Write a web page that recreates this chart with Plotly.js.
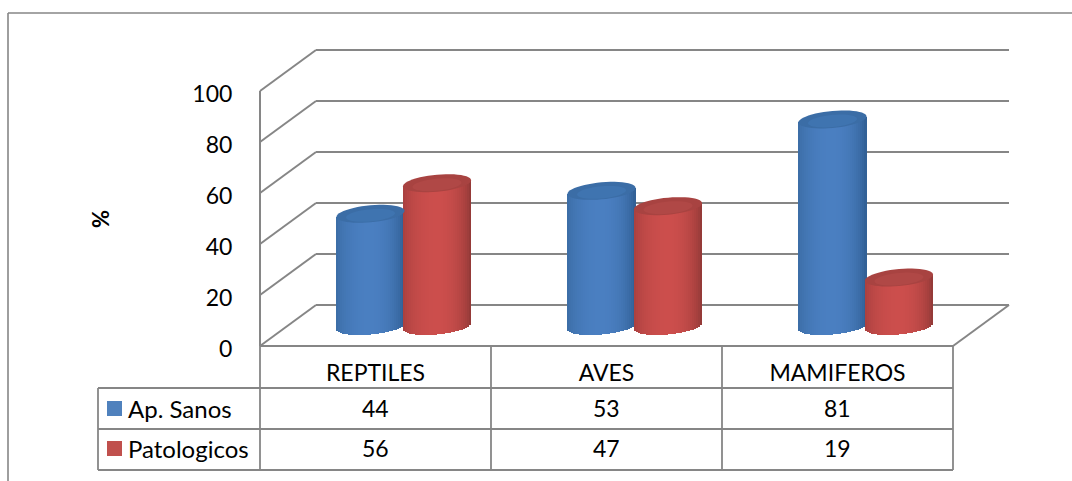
<!DOCTYPE html>
<html><head><meta charset="utf-8">
<script src="https://cdn.plot.ly/plotly-3.0.1.min.js"></script>
<style>html,body{margin:0;padding:0;background:#fff}#c{width:1072px;height:481px}</style>
</head><body><div id="c"></div>
<script>
const categories = ['REPTILES','AVES','MAMIFEROS'];
const seriesNames = ['Ap. Sanos','Patologicos'];
const apSanos = [44,53,81];
const patologicos = [56,47,19];
const yTicks = [0,20,40,60,80,100];
const yTickText = ['0','20','40','60','80','100'];
const seriesSolid = ['#4F81BD','#C0504D'];
const seriesEdgeL = ['#3A6BA3','#A63F3E'];
const seriesMid = ['#4A7FC1','#CC4E4C'];
const seriesEdgeR = ['#2E5C90','#8C3735'];
const seriesCap = ['#3B6DA6','#A84341'];
const seriesCapIn = ['#3F74B0','#B04846'];

const W=1072,H=481,FONT='Lato, Carlito, sans-serif',GRID='#868686',TXT='#000';
const X0=260,X3=953,Y0=346,Y100=91;
const pxX=(X3-X0)/3, pxY=(Y0-Y100)/100;
const xr=[-0.5-X0/pxX, 2.5+(W-X3)/pxX];
const yr=[-(H-Y0)/pxY, Y0/pxY];
const px=p=>p/W, py=p=>1-p/H;
const dataX=p=>-0.5+(p-X0)/pxX, dataY=p=>(Y0-p)/pxY;
const depthX=56/pxX, depthY=41/pxY;

const shapes=[];
const line=(x0,y0,x1,y1,w=1.6,ref='paper',col=GRID)=>shapes.push({type:'line',xref:ref==='paper'?'paper':'x',yref:ref==='paper'?'paper':'y',x0,y0,x1,y1,layer:'below',line:{color:col,width:w}});
const pl=(a,b,c,d,w)=>line(px(a),py(b),px(c),py(d),w);

// frame: left and top edges only
pl(8,13,8,481,1.6); pl(8,13,1072,13,1.6);
// walls, built from the value axis ticks
yTicks.forEach(v=>{
  line(-0.5,v,-0.5+depthX,v+depthY,2,'data');
  line(-0.5+depthX,v+depthY,2.5+depthX,v+depthY,2,'data');
});
line(-0.5,0,2.5,0,2,'data');
line(2.5,0,2.5+depthX,depthY,2,'data');
line(-0.5,0,-0.5,100,2,'data');
// data table rules
[388,429,470].forEach(y=>pl(98,y,X3,y,1.8));
pl(98,388,98,470,1.8);
[0,1,2,3].forEach(i=>line(-0.5+i,0,-0.5+i,dataY(470),1.8,'data'));

// cylinders
const dataSets=[apSanos,patologicos];
const cx=[-5/pxX,61.5/pxX], halfW=34/pxX, b0=(Y0-326)/pxY, ry=8.5/pxY, tilt=3/pxY;
const N=34, traces=[];
const hex=c=>[1,3,5].map(i=>parseInt(c.substr(i,2),16));
const mix=(a,b,t)=>{const A=hex(a),B=hex(b);return 'rgb('+A.map((v,i)=>Math.round(v+(B[i]-v)*t)).join(',')+')'};
dataSets.forEach((vals,s)=>{
  for(let j=0;j<N;j++){
    const u=-1+(2*j+1)/N;
    const edge=u<0?seriesEdgeL[s]:seriesEdgeR[s];
    const c=mix(edge,seriesMid[s],Math.pow(1-u*u,0.7));
    const bot=b0+tilt*u-ry*Math.sqrt(1-u*u);
    traces.push({type:'bar',name:seriesNames[s],showlegend:false,hoverinfo:'skip',
      x:vals.map((_,i)=>i+cx[s]+u*halfW),
      y:vals.map(v=>b0+v+tilt*u-bot),
      base:vals.map(()=>bot),
      width:vals.map(()=>2*halfW/N*1.12),
      marker:{color:c,line:{width:0}}});
  }
  vals.forEach((v,i)=>{
    const mk=(sc,dy)=>{let d='';for(let k=0;k<=48;k++){const t=k/48*2*Math.PI,c=Math.cos(t),sn=Math.sin(t);
      const x=i+cx[s]+sc*halfW*c, y=b0+v+dy+sc*(tilt*c+ry*sn);
      d+=(k?'L':'M')+x.toFixed(4)+','+y.toFixed(3);} return d+'Z';};
    shapes.push({type:'path',xref:'x',yref:'y',path:mk(1,0),fillcolor:seriesCap[s],line:{width:0},layer:'above'});
    shapes.push({type:'path',xref:'x',yref:'y',path:mk(0.72,-0.6),fillcolor:seriesCapIn[s],line:{width:0},layer:'above'});
  });
});

// table cells and legend keys
const annotations=[];
const rows=[408,448];
dataSets.forEach((vals,s)=>{
  vals.forEach((v,i)=>annotations.push({xref:'x',yref:'y',x:i,y:dataY(rows[s]),xanchor:'center',yanchor:'middle',text:String(v),showarrow:false,font:{family:FONT,size:23,color:TXT}}));
  annotations.push({xref:'paper',yref:'paper',x:px(126),y:py(rows[s]),xanchor:'left',yanchor:'middle',text:seriesNames[s],showarrow:false,font:{family:FONT,size:24,color:TXT}});
  shapes.push({type:'rect',xref:'paper',yref:'paper',x0:px(107),x1:px(122),y0:py(rows[s]-7),y1:py(rows[s]+8),fillcolor:seriesSolid[s],line:{width:0},layer:'above'});
});
annotations.push({xref:'paper',yref:'paper',x:px(100),y:py(219),xanchor:'center',yanchor:'middle',text:'<b>%</b>',textangle:-90,showarrow:false,font:{family:FONT,size:22,color:TXT}});

Plotly.newPlot('c',traces,{
  width:W,height:H,margin:{l:0,r:0,t:0,b:0,pad:0},
  paper_bgcolor:'#fff',plot_bgcolor:'rgba(0,0,0,0)',
  barmode:'overlay',bargap:0,showlegend:false,
  xaxis:{range:xr,anchor:'free',position:(H-Y0)/H,showgrid:false,zeroline:false,showline:false,
    tickmode:'array',tickvals:[0,1,2],ticktext:categories,ticks:'outside',ticklen:6,tickcolor:'rgba(0,0,0,0)',
    tickfont:{family:FONT,size:23,color:TXT}},
  yaxis:{range:yr,anchor:'free',position:X0/W,showgrid:false,zeroline:false,showline:false,
    tickmode:'array',tickvals:yTicks,ticktext:yTickText,ticks:'outside',ticklen:23,tickcolor:'rgba(0,0,0,0)',ticklabelshift:3,
    tickfont:{family:FONT,size:23,color:TXT}},
  shapes,annotations
},{staticPlot:true,displayModeBar:false});
</script></body></html>
